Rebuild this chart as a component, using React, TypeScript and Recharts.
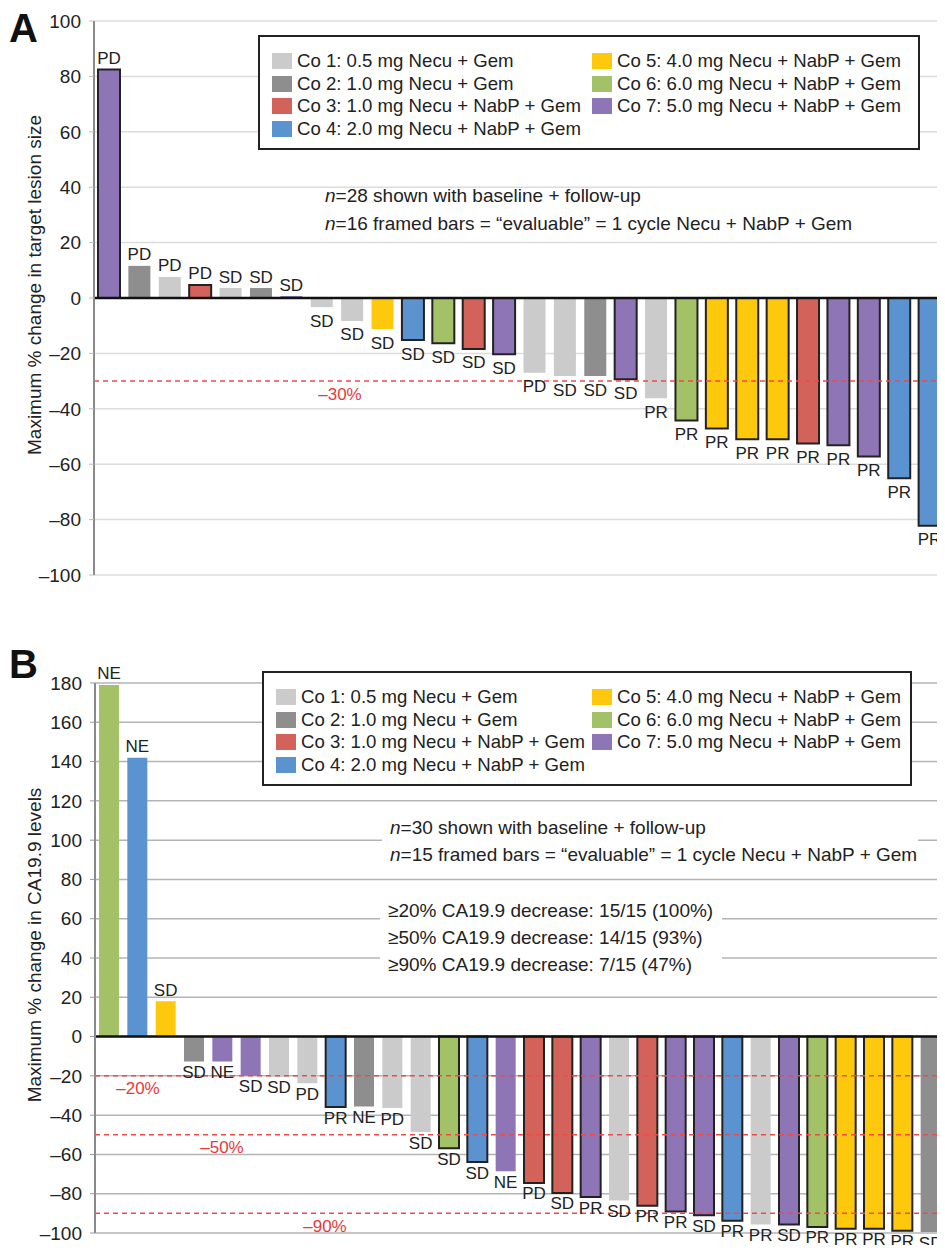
import { Bar, BarChart, CartesianGrid, Cell, LabelList, Legend, ReferenceLine, XAxis, YAxis } from 'recharts';

const FONT = '"Liberation Sans", Arial, sans-serif';

const cohortNames = [
  'Co 1: 0.5 mg Necu + Gem',
  'Co 2: 1.0 mg Necu + Gem',
  'Co 3: 1.0 mg Necu + NabP + Gem',
  'Co 4: 2.0 mg Necu + NabP + Gem',
  'Co 5: 4.0 mg Necu + NabP + Gem',
  'Co 6: 6.0 mg Necu + NabP + Gem',
  'Co 7: 5.0 mg Necu + NabP + Gem',
];
const cohortColors = ['#cbcbcb', '#8e8e8e', '#d3625b', '#5b93d0', '#fec90c', '#a3c166', '#8d75b6'];

// A: target lesion size
const lesionChange = [
  82.5, 11.6, 7.6, 4.7, 3.6, 3.6, 0.7, -3.3, -8.3, -11.2, -15.2, -16.3, -18.4, -20.3,
  -27, -28.2, -28.2, -29.3, -36.2, -44.2, -47.1, -51, -51, -52.5, -53.2, -57.2, -65.1, -82.2,
];
const lesionCohort = [7, 2, 1, 3, 1, 2, 7, 1, 1, 5, 4, 6, 3, 7, 1, 1, 2, 7, 1, 6, 5, 5, 5, 3, 7, 7, 4, 4];
const lesionResponse = [
  'PD', 'PD', 'PD', 'PD', 'SD', 'SD', 'SD', 'SD', 'SD', 'SD', 'SD', 'SD', 'SD', 'SD',
  'PD', 'SD', 'SD', 'SD', 'PR', 'PR', 'PR', 'PR', 'PR', 'PR', 'PR', 'PR', 'PR', 'PR',
];
const lesionFramed = [1, 0, 0, 1, 0, 0, 0, 0, 0, 0, 1, 1, 1, 1, 0, 0, 0, 1, 0, 1, 1, 1, 1, 1, 1, 1, 1, 1];
const lesionTicks = [-100, -80, -60, -40, -20, 0, 20, 40, 60, 80, 100];

// B: CA19.9 levels
const caChange = [
  179, 142, 18, -12.7, -12.7, -20, -20.5, -23.7, -35.9, -35.6, -36.4, -48.6, -56.9, -63.9, -68.6,
  -74.5, -79.6, -81.7, -83.5, -86.1, -89, -91, -93.7, -95.7, -95.7, -96.9, -97.8, -97.8, -98.8, -99.5,
];
const caCohort = [6, 4, 5, 2, 7, 7, 1, 1, 4, 2, 1, 1, 6, 4, 7, 3, 3, 7, 1, 3, 7, 7, 4, 1, 7, 6, 5, 5, 5, 2];
const caResponse = [
  'NE', 'NE', 'SD', 'SD', 'NE', 'SD', 'SD', 'PD', 'PR', 'NE', 'PD', 'SD', 'SD', 'SD', 'NE',
  'PD', 'SD', 'PR', 'SD', 'PR', 'PR', 'SD', 'PR', 'PR', 'SD', 'PR', 'PR', 'PR', 'PR', 'SD',
];
const caFramed = [0, 0, 0, 0, 0, 0, 0, 0, 1, 0, 0, 0, 1, 1, 0, 1, 1, 1, 0, 1, 1, 1, 1, 0, 1, 1, 1, 1, 1, 0];
const caTicks = [-100, -80, -60, -40, -20, 0, 20, 40, 60, 80, 100, 120, 140, 160, 180];

const toRows = (change: number[], cohort: number[], resp: string[], framed: number[]) =>
  change.map((v, i) => ({ id: i + 1, change: v, cohort: cohort[i], resp: resp[i], framed: framed[i] === 1 }));

const lesionRows = toRows(lesionChange, lesionCohort, lesionResponse, lesionFramed);
const caRows = toRows(caChange, caCohort, caResponse, caFramed);

const fmtTick = (v: number) => (v < 0 ? `\u2013${-v}` : `${v}`);

function BarTag(props: any) {
  const vb = props.viewBox ?? props;
  const { x, y, width, height } = vb;
  const row = props.rows[props.index];
  if (!row) return null;
  const top = Math.min(y, y + height);
  const bottom = Math.max(y, y + height);
  const up = row.change >= 0;
  return (
    <text
      x={x + width / 2}
      y={up ? top - 11 : bottom + props.gap}
      textAnchor="middle"
      dominantBaseline="central"
      fontSize={17}
      fontFamily={FONT}
      fill="#222"
    >
      {row.resp}
    </text>
  );
}

function RefTag({ viewBox, text, at }: any) {
  if (!viewBox) return null;
  return (
    <text x={viewBox.x + at} y={viewBox.y + 13} textAnchor="middle" dominantBaseline="central" fontSize={17} fontFamily={FONT} fill="#e8393a">
      {text}
    </text>
  );
}

function AxisTitle({ viewBox, text }: any) {
  if (!viewBox) return null;
  const cx = viewBox.x + 41;
  const cy = viewBox.y + viewBox.height / 2 - 13;
  return (
    <text transform={`translate(${cx},${cy}) rotate(-90)`} textAnchor="middle" fontSize={19} fontFamily={FONT} fill="#222">
      {text}
    </text>
  );
}

function CohortKey({ colTwo }: { colTwo: number }) {
  return (
    <div
      style={{
        position: 'relative',
        width: '100%',
        height: 115,
        border: '2px solid #222',
        boxSizing: 'border-box',
        background: '#fff',
        fontFamily: FONT,
        fontSize: 18.6,
        color: '#222',
      }}
    >
      {cohortNames.map((name, i) => {
        const second = i >= 4;
        const row = second ? i - 4 : i;
        return (
          <div
            key={name}
            style={{
              position: 'absolute',
              left: second ? colTwo : 12,
              top: 12.7 + row * 22.6,
              height: 22.6,
              display: 'flex',
              alignItems: 'center',
              whiteSpace: 'nowrap',
            }}
          >
            <span style={{ display: 'inline-block', width: 20, height: 16, background: cohortColors[i], marginRight: 5 }} />
            {name}
          </div>
        );
      })}
    </div>
  );
}

const panelLetter = (top: number): React.CSSProperties => ({
  position: 'absolute',
  left: 9,
  top,
  fontFamily: FONT,
  fontWeight: 700,
  fontSize: 40,
  lineHeight: '40px',
  color: '#111',
});

const noteStyle: React.CSSProperties = {
  position: 'absolute',
  fontFamily: FONT,
  fontSize: 19,
  color: '#222',
  whiteSpace: 'nowrap',
};

export default function App() {
  return (
    <div style={{ margin: -8, width: 945, height: 1253, overflow: 'hidden', background: '#fff' }}>
      <div style={{ position: 'relative', width: 945, height: 615 }}>
        <BarChart width={945} height={615} data={lesionRows} margin={{ top: 21, right: 0, bottom: 40, left: 0 }}>
          <CartesianGrid vertical={false} stroke="#dcdcdc" strokeWidth={1.5} />
          <XAxis dataKey="id" hide />
          <YAxis
            domain={[-100, 100]}
            ticks={lesionTicks}
            width={94}
            tickFormatter={fmtTick}
            tick={{ fontSize: 19, fill: '#222', fontFamily: FONT }}
            tickSize={5}
            tickMargin={8}
            tickLine={{ stroke: '#bbb' }}
            axisLine={{ stroke: '#8a8a8a', strokeWidth: 2 }}
            label={<AxisTitle text="Maximum % change in target lesion size" />}
          />
          <Legend
            layout="vertical"
            align="center"
            verticalAlign="middle"
            wrapperStyle={{ left: 258, top: 35, width: 662 }}
            content={() => <CohortKey colTwo={332} />}
          />
          <ReferenceLine y={-30} stroke="#ef4a4a" strokeWidth={1.5} strokeDasharray="5 4" label={<RefTag text={'\u201330%'} at={246} />} />
          <Bar dataKey="change" barSize={22} isAnimationActive={false}>
            {lesionRows.map((r) => (
              <Cell key={r.id} fill={cohortColors[r.cohort - 1]} stroke={r.framed ? '#222' : 'none'} strokeWidth={r.framed ? 2 : 0} />
            ))}
            <LabelList dataKey="resp" content={(p: any) => <BarTag {...p} rows={lesionRows} gap={14} />} />
          </Bar>
          <ReferenceLine y={0} stroke="#111" strokeWidth={2.5} />
        </BarChart>
        <div style={panelLetter(8)}>A</div>
        <div style={{ ...noteStyle, left: 325, top: 182, lineHeight: '28px' }}>
          <div><i>n</i>=28 shown with baseline + follow-up</div>
          <div><i>n</i>=16 framed bars = “evaluable” = 1 cycle Necu + NabP + Gem</div>
        </div>
      </div>
      <div style={{ position: 'relative', width: 945, height: 638 }}>
        <BarChart width={945} height={638} data={caRows} margin={{ top: 68, right: 0, bottom: 20, left: 0 }}>
          <CartesianGrid vertical={false} stroke="#b4b4b4" strokeWidth={1.5} />
          <XAxis dataKey="id" hide />
          <YAxis
            domain={[-100, 180]}
            ticks={caTicks}
            width={95}
            tickFormatter={fmtTick}
            tick={{ fontSize: 19, fill: '#222', fontFamily: FONT }}
            tickSize={5}
            tickMargin={8}
            tickLine={{ stroke: '#999' }}
            axisLine={{ stroke: '#8a8a8a', strokeWidth: 2 }}
            label={<AxisTitle text="Maximum % change in CA19.9 levels" />}
          />
          <Legend
            layout="vertical"
            align="center"
            verticalAlign="middle"
            wrapperStyle={{ left: 262, top: 56, width: 650 }}
            content={() => <CohortKey colTwo={328} />}
          />
          <ReferenceLine y={-20} stroke="#ef4a4a" strokeWidth={1.5} strokeDasharray="5 4" label={<RefTag text={'\u201320%'} at={43} />} />
          <ReferenceLine y={-50} stroke="#ef4a4a" strokeWidth={1.5} strokeDasharray="5 4" label={<RefTag text={'\u201350%'} at={127} />} />
          <ReferenceLine y={-90} stroke="#ef4a4a" strokeWidth={1.5} strokeDasharray="5 4" label={<RefTag text={'\u201390%'} at={230} />} />
          <Bar dataKey="change" barSize={20} isAnimationActive={false}>
            {caRows.map((r) => (
              <Cell key={r.id} fill={cohortColors[r.cohort - 1]} stroke={r.framed ? '#222' : 'none'} strokeWidth={r.framed ? 2 : 0} />
            ))}
            <LabelList dataKey="resp" content={(p: any) => <BarTag {...p} rows={caRows} gap={11} />} />
          </Bar>
          <ReferenceLine y={0} stroke="#111" strokeWidth={2.5} />
        </BarChart>
        <div style={panelLetter(29)}>B</div>
        <div style={{ ...noteStyle, left: 382, top: 199, width: 528, paddingLeft: 8, lineHeight: '27px', background: '#fff' }}>
          <div><i>n</i>=30 shown with baseline + follow-up</div>
          <div><i>n</i>=15 framed bars = “evaluable” = 1 cycle Necu + NabP + Gem</div>
        </div>
        <div style={{ ...noteStyle, left: 380, top: 281.5, width: 334, paddingLeft: 8, lineHeight: '27.3px', background: '#fff' }}>
          <div>≥20% CA19.9 decrease: 15/15 (100%)</div>
          <div>≥50% CA19.9 decrease: 14/15 (93%)</div>
          <div>≥90% CA19.9 decrease: 7/15 (47%)</div>
        </div>
      </div>
    </div>
  );
}
